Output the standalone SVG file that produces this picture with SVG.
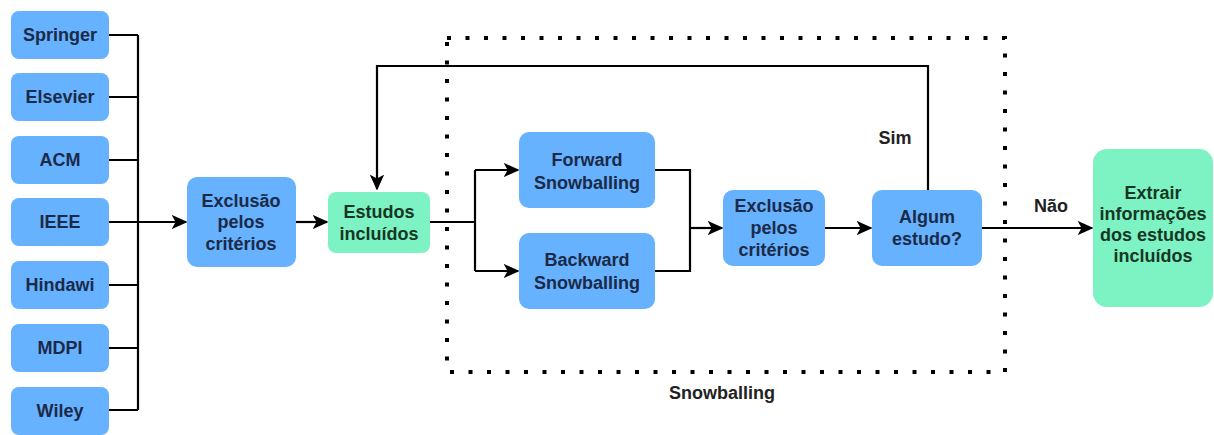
<svg xmlns="http://www.w3.org/2000/svg" width="1214" height="435" viewBox="0 0 1214 435">
<style>
.b{fill:#66B2FF;}
.g{fill:#7DF2C2;}
.t{font-family:"Liberation Sans",Arial,sans-serif;font-weight:bold;font-size:18px;text-anchor:middle;}
.tb{fill:#1B2A47;}
.tg{fill:#163626;}
.lbl{fill:#222;}
.c{fill:none;stroke:#000;stroke-width:2.2;}
</style>
<defs>
<marker id="ahb" viewBox="0 0 10 10" refX="9" refY="5" markerWidth="16" markerHeight="16" markerUnits="userSpaceOnUse" orient="auto">
<path d="M0,0.5 L10,5 L0,9.5 L2.5,5 Z" fill="#000"/>
</marker>
</defs>
<rect x="447" y="38" width="558" height="334" fill="none" stroke="#000" stroke-width="4" stroke-dasharray="4 14.5"/>
<text class="t lbl" x="722" y="399">Snowballing</text>
<g id="connectors">
<path class="c" d="M109,35 H138 M109,97 H138 M109,160 H138 M109,285 H138 M109,348 H138 M109,410 H138 M138,35 V410"/>
<path class="c" d="M109,222 H186" marker-end="url(#ahb)"/>
<path class="c" d="M296,222 H327" marker-end="url(#ahb)"/>
<path class="c" d="M430,222 H475 M475,170 V271"/>
<path class="c" d="M475,170 H518" marker-end="url(#ahb)"/>
<path class="c" d="M475,271 H518" marker-end="url(#ahb)"/>
<path class="c" d="M655,170 H690 V271 H655"/>
<path class="c" d="M690,228 H722" marker-end="url(#ahb)"/>
<path class="c" d="M824,228 H871" marker-end="url(#ahb)"/>
<path class="c" d="M928,190 V66 H377 V189" marker-end="url(#ahb)"/>
<path class="c" d="M982,228 H1092" marker-end="url(#ahb)"/>
<text class="t lbl" x="895" y="144">Sim</text>
<text class="t lbl" x="1051" y="212">Não</text>
</g>
<g id="springer"><rect class="b" x="11" y="11" width="98" height="48" rx="8"/><text class="t tb" x="60" y="41">Springer</text></g>
<g id="elsevier"><rect class="b" x="11" y="73" width="98" height="48" rx="8"/><text class="t tb" x="60" y="103">Elsevier</text></g>
<g id="acm"><rect class="b" x="11" y="136" width="98" height="48" rx="8"/><text class="t tb" x="60" y="166">ACM</text></g>
<g id="ieee"><rect class="b" x="11" y="198" width="98" height="48" rx="8"/><text class="t tb" x="60" y="228">IEEE</text></g>
<g id="hindawi"><rect class="b" x="11" y="261" width="98" height="48" rx="8"/><text class="t tb" x="60" y="291">Hindawi</text></g>
<g id="mdpi"><rect class="b" x="11" y="324" width="98" height="48" rx="8"/><text class="t tb" x="60" y="354">MDPI</text></g>
<g id="wiley"><rect class="b" x="11" y="387" width="98" height="48" rx="8"/><text class="t tb" x="60" y="417">Wiley</text></g>
<g id="exclusao1"><rect class="b" x="187" y="177" width="109" height="90" rx="10"/>
<text class="t tb" x="241" y="207">Exclusão</text><text class="t tb" x="241" y="228">pelos</text><text class="t tb" x="241" y="250">critérios</text></g>
<g id="estudos"><rect class="g" x="328" y="192" width="102" height="61" rx="8"/>
<text class="t tg" x="379" y="218">Estudos</text><text class="t tg" x="379" y="240">incluídos</text></g>
<g id="forward"><rect class="b" x="519" y="132" width="136" height="76" rx="10"/>
<text class="t tb" x="587" y="166">Forward</text><text class="t tb" x="587" y="189">Snowballing</text></g>
<g id="backward"><rect class="b" x="519" y="233" width="136" height="76" rx="10"/>
<text class="t tb" x="587" y="266">Backward</text><text class="t tb" x="587" y="289">Snowballing</text></g>
<g id="exclusao2"><rect class="b" x="723" y="190" width="102" height="76" rx="10"/>
<text class="t tb" x="774" y="212">Exclusão</text><text class="t tb" x="774" y="234">pelos</text><text class="t tb" x="774" y="256">critérios</text></g>
<g id="algum"><rect class="b" x="872" y="190" width="110" height="76" rx="10"/>
<text class="t tb" x="927" y="223">Algum</text><text class="t tb" x="927" y="245">estudo?</text></g>
<g id="extrair"><rect class="g" x="1093" y="149" width="120" height="158" rx="14"/>
<text class="t tg" x="1153" y="199">Extrair</text><text class="t tg" x="1153" y="220">informações</text><text class="t tg" x="1153" y="241">dos estudos</text><text class="t tg" x="1153" y="262">incluídos</text></g>
</svg>
